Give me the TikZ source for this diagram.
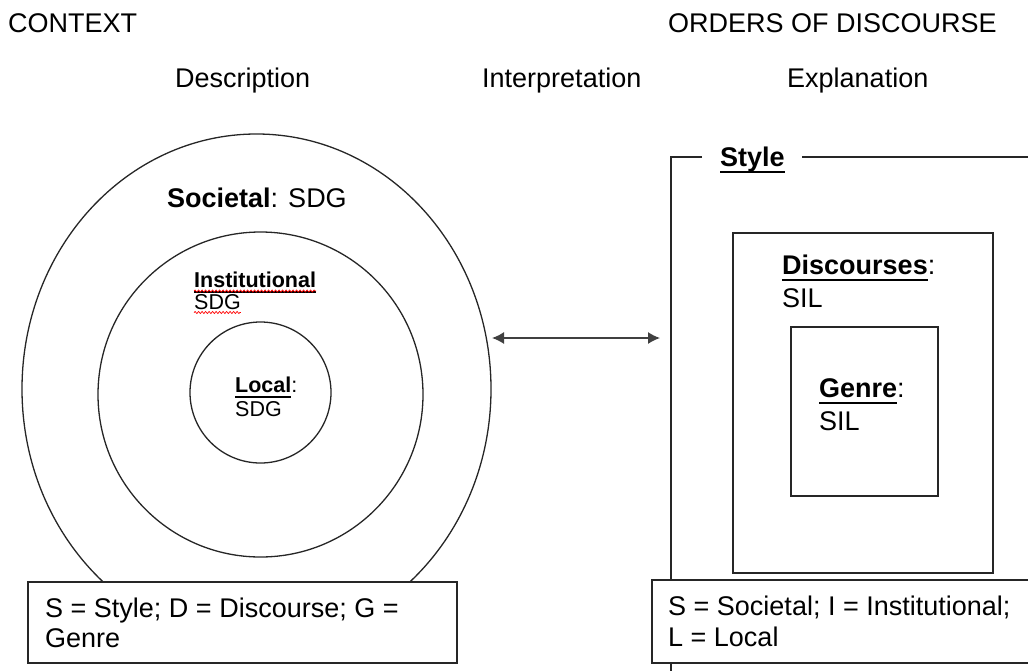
\documentclass[tikz,border=0pt]{standalone}
\usepackage{fontspec}
\setmainfont{Liberation Sans}
\usetikzlibrary{arrows.meta,decorations.pathmorphing}

% bold heading with a heavy underline
\newsavebox{\headbox}
\newcommand{\ulhead}[1]{\sbox{\headbox}{\bfseries #1}\rlap{\rule[-0.26em]{\wd\headbox}{0.075em}}\usebox{\headbox}}

\tikzset{
  lbl/.style={anchor=base west, inner sep=0pt, font=\fontsize{27}{31}\selectfont},
  lblsmall/.style={lbl, font=\fontsize{21.5}{25}\selectfont},
  ring/.style={line width=1.3pt, draw=black!85},
  boxline/.style={line width=1.3pt, draw=black!85},
  keybox/.style={line width=1.3pt, draw=black!85, fill=white},
  spell/.style={red, line width=0.7pt, decorate, decoration={snake, amplitude=1pt, segment length=3.5pt}},
  link/.style={{Latex[length=12pt,width=12pt]}-{Latex[length=12pt,width=12pt]}, line width=1.4pt, draw=black!75}
}

\begin{document}
\begin{tikzpicture}[x=1pt, y=-1pt]
  \useasboundingbox (0,0) rectangle (1028,670);

  % Headings
  \node[lbl] (context) at (8,32) {CONTEXT};
  \node[lbl] (orders) at (668,32) {ORDERS OF DISCOURSE};
  \node[lbl] (descr) at (175,87) {Description};
  \node[lbl] (interp) at (482,87) {Interpretation};
  \node[lbl] (expl) at (787,87) {Explanation};

  % Context rings
  \draw[ring] (256.5,389) ellipse[x radius=234.5, y radius=255];
  \draw[ring] (260.5,394.5) circle[radius=162.5];
  \draw[ring] (260.5,392.5) circle[radius=70.5];

  \node[lbl] (societal) at (167,207) {\textbf{Societal}: SDG};
  \node[lblsmall] (inst) at (194,287) {\ulhead{Institutional}};
  \node[lblsmall] (instsdg) at (194,309) {SDG};
  \draw[spell] ([yshift=-4pt]inst.base west) -- ([yshift=-4pt]inst.base east);
  \draw[spell] ([yshift=-3.5pt]instsdg.base west) -- ([yshift=-3.5pt]instsdg.base east);
  \node[lblsmall] (local) at (235,392) {\ulhead{Local}:};
  \node[lblsmall] (localsdg) at (235,416) {SDG};

  % Orders of discourse
  \draw[boxline] (802,157) -- (1040,157);
  \draw[boxline] (702,157) -- (671,157) -- (671,680);
  \node[lbl] (style) at (720,166) {\ulhead{Style}};

  \draw[boxline] (733,233) rectangle (993,573);
  \node[lbl] (disc) at (782,274) {\ulhead{Discourses}:};
  \node[lbl] (discsil) at (782,307) {SIL};

  \draw[boxline] (791,327) rectangle (938,496);
  \node[lbl] (genre) at (819,397) {\ulhead{Genre}:};
  \node[lbl] (genresil) at (819,430) {SIL};

  % Link between the two sides
  \coordinate (linkL) at (492,338);
  \coordinate (linkR) at (660,338);
  \draw[link] (linkL) -- (linkR);

  % Keys
  \draw[keybox] (28,582) rectangle (457,663);
  \node[lbl] (keyA1) at (45,617) {S = Style; D = Discourse; G =};
  \node[lbl] (keyA2) at (45,647) {Genre};

  \draw[keybox] (652,580) rectangle (1040,663);
  \node[lbl] (keyB1) at (668,615) {S = Societal; I = Institutional;};
  \node[lbl] (keyB2) at (668,646) {L = Local};
\end{tikzpicture}
\end{document}
